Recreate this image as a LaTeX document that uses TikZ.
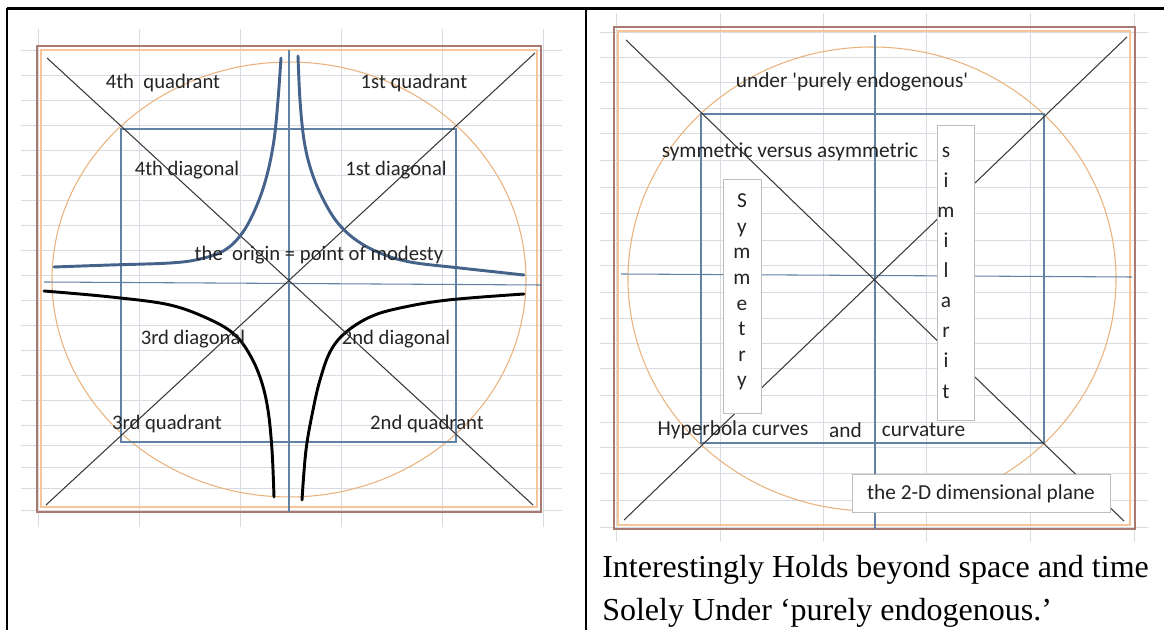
\documentclass[tikz,border=0pt]{standalone}
\usepackage{fontspec}
\setmainfont{Liberation Serif}
\newfontfamily\calibri{Carlito}
\usetikzlibrary{positioning}
\definecolor{gridgray}{RGB}{216,220,226}
\definecolor{framebrown}{RGB}{170,122,112}
\definecolor{frameorange}{RGB}{246,198,152}
\definecolor{axisblue}{RGB}{98,130,164}
\definecolor{diaggray}{RGB}{58,58,58}
\definecolor{circleorange}{RGB}{234,178,124}
\definecolor{curveblue}{RGB}{68,98,138}
\definecolor{boxgray}{RGB}{190,190,190}
\definecolor{labelgray}{RGB}{36,36,36}

\begin{document}
\begin{tikzpicture}[x=0.75pt,y=-0.75pt]
\tikzset{
  gridline/.style={draw=gridgray,line width=0.6pt},
  tableline/.style={draw=black,line width=1.6pt},
  outerframe/.style={draw=framebrown,line width=1.1pt},
  innerframe/.style={draw=frameorange,line width=1.1pt},
  axisline/.style={draw=axisblue,line width=0.8pt},
  diagline/.style={draw=diaggray,line width=0.8pt},
  ringline/.style={draw=circleorange,line width=0.8pt},
  bluecurve/.style={draw=curveblue,line width=2.2pt,line cap=round},
  blackcurve/.style={draw=black,line width=2.2pt,line cap=round},
  leftlabel/.style={font=\calibri\fontsize{15.5}{18}\selectfont,text=labelgray,inner sep=0pt},
  rightlabel/.style={font=\calibri\fontsize{16}{19}\selectfont,text=labelgray,inner sep=0pt},
  textbox/.style={draw=boxgray,fill=white,line width=0.6pt,inner sep=0pt},
  captionline/.style={font=\fontsize{24}{30}\selectfont,anchor=base west,inner sep=0pt}
}
\useasboundingbox (0,0) rectangle (1164,630);
\foreach \gx in {38.5,139,240,341,442,543} \draw[gridline] (\gx,29) -- (\gx,527);
\foreach \gy in {50,75,100,125,150,175,200,225,250,275,300,325,350,375,400,425,445,467,488,510} \draw[gridline] (21,\gy) -- (562,\gy);
\foreach \gx in {616,720,823,926,1030,1134} \draw[gridline] (\gx,13) -- (\gx,542);
\foreach \gy in {32,57,82,108,133,160,187,213,240,265,292,318,343,368,395,422,447,473,500,527} \draw[gridline] (600,\gy) -- (1148,\gy);
\draw[outerframe] (37,46) rectangle (541,512);
\draw[innerframe] (41,50) rectangle (537,507);
\draw[outerframe] (614,27) rectangle (1135,529);
\draw[innerframe] (618,31) rectangle (1130,525);
\draw[ringline] (289,279.5) ellipse [x radius=177.75pt, y radius=163.1pt];
\draw[ringline] (872,279) ellipse [x radius=183pt, y radius=174pt];
\draw[axisline] (121,129) rectangle (456,442);
\draw[axisline] (701,114) rectangle (1044,443);
\draw[axisline] (289,50) -- (289,512);
\draw[axisline] (44,282) -- (541,285);
\draw[axisline] (875,35) -- (875,529);
\draw[axisline] (621,274) -- (1132,277);
\draw[diagline] (47,58) -- (533,505);
\draw[diagline] (535,53) -- (46,505);
\draw[diagline] (626,40) -- (1124,521);
\draw[diagline] (1127,37) -- (624,520);
\draw[bluecurve] plot[smooth,tension=0.6] coordinates {(281,58) (278,100) (274,140) (267,175) (257,205) (243,232) (225,250) (200,259) (170,263) (110,265) (54,267)};
\draw[bluecurve] plot[smooth,tension=0.6] coordinates {(298,56) (300,100) (304,140) (311,170) (322,197) (337,222) (356,240) (380,253) (410,262) (460,268) (524,275)};
\draw[blackcurve] plot[smooth,tension=0.6] coordinates {(44,291) (111,297) (170,305) (211,320) (235,335) (250,355) (261,380) (268,410) (272,450) (274,497)};
\draw[blackcurve] plot[smooth,tension=0.6] coordinates {(524,294) (448,300) (400,308) (370,317) (345,333) (330,352) (320,380) (313,410) (306,450) (302,500)};
\node[leftlabel] (l_q4) at (163,83) {4th~ quadrant};
\node[leftlabel] (l_q1) at (414,83) {1st quadrant};
\node[leftlabel] (l_d4) at (187,170) {4th diagonal};
\node[leftlabel] (l_d1) at (396,170) {1st diagonal};
\node[leftlabel] (l_origin) at (319,255) {the~ origin = point of modesty};
\node[leftlabel] (l_d3) at (193,339) {3rd diagonal};
\node[leftlabel] (l_d2) at (396,339) {2nd diagonal};
\node[leftlabel] (l_q3) at (167,424) {3rd quadrant};
\node[leftlabel] (l_q2) at (427,424) {2nd quadrant};
\node[rightlabel] (r_under) at (852,82) {under 'purely endogenous'};
\node[rightlabel] (r_symasym) at (790,152) {symmetric versus asymmetric};
\node[textbox,minimum width=28.5pt,minimum height=176pt] (b_symm) at (742,296.5) {};
\node[rightlabel,align=center,font=\calibri\fontsize{16}{19.2}\selectfont] (r_symm) at (742,292) {S\\y\\m\\m\\e\\t\\r\\y};
\node[textbox,minimum width=27.75pt,minimum height=221.25pt] (b_simil) at (955.5,272.5) {};
\node[rightlabel,align=center,font=\calibri\fontsize{16}{22.6}\selectfont] (r_simil) at (946,272.5) {s\\i\\m\\i\\l\\a\\r\\i\\t};
\node[rightlabel] (r_hyper) at (733,430) {Hyperbola curves};
\node[rightlabel] (r_and) at (845.5,430) {and};
\node[rightlabel] (r_curv) at (923.5,430) {curvature};
\node[textbox,minimum width=193.5pt,minimum height=28.5pt] (b_plane) at (981,493) {};
\node[rightlabel] (r_plane) at (981,494) {the 2-D dimensional plane};
\node[captionline] (cap_a) at (602,578) {Interestingly Holds beyond space and time};
\node[captionline] (cap_b) at (602,620) {Solely Under ‘purely endogenous.’};
\draw[tableline] (7,8.5) -- (1164,8.5);
\draw[tableline] (7,8.5) -- (7,630);
\draw[tableline] (586,8.5) -- (586,630);
\end{tikzpicture}
\end{document}
